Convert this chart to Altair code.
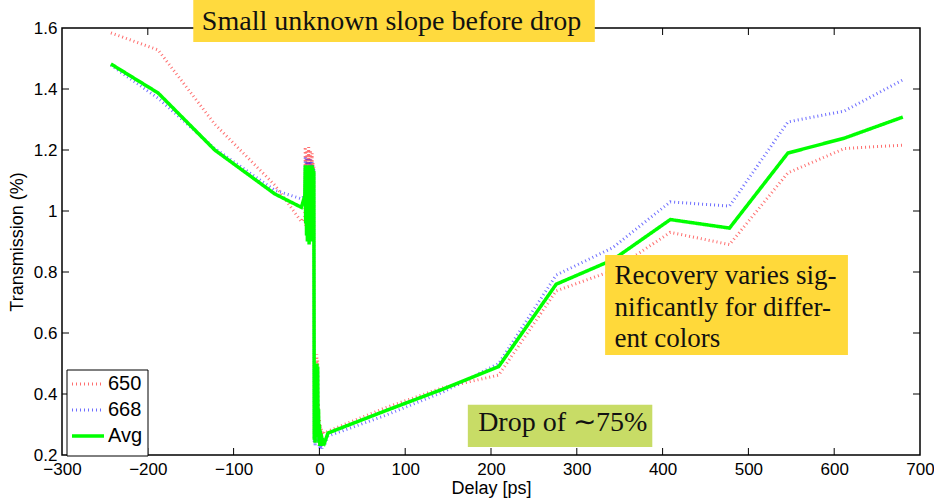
import altair as alt
import pandas as pd

# Pump-probe transmission traces for two probe colours and their average
pre_delay = [-243, -188, -122, -52, -21]
pre_650 = [1.584, 1.528, 1.285, 1.085, 0.965]
pre_668 = [1.478, 1.370, 1.205, 1.068, 1.040]
pre_avg = [1.482, 1.387, 1.200, 1.056, 1.012]

# finely sampled region around time zero
spike_delay = [-17, -16.5, -16, -15.5, -15, -14.5, -14, -13.5, -13, -12.5, -12, -11.5,
               -11, -10.5, -10, -9.5, -9, -8.5, -8, -7.5, -7, -6.5, -6, -5.5, -5,
               -4.5, -4, -3.5, -3, -2.5, -2, -1.5, -1, -0.5, 0, 0.5, 1, 1.5, 2, 3, 4, 6]
spike_650 = [0.98, 1.21, 0.95, 1.18, 0.93, 1.20, 0.96, 1.17, 0.94, 1.21, 0.92, 1.18,
             0.95, 1.20, 0.93, 1.17, 0.96, 1.19, 0.94, 1.16, 0.92, 1.15, 0.27, 0.36, 0.26,
             0.42, 0.28, 0.33, 0.53, 0.29, 0.51, 0.28, 0.37, 0.26, 0.32, 0.25, 0.30, 0.25,
             0.29, 0.26, 0.28, 0.27]
spike_668 = [1.05, 1.18, 0.97, 1.16, 0.93, 1.17, 0.92, 1.15, 0.96, 1.17, 0.91, 1.16,
             0.94, 1.17, 0.92, 1.15, 0.93, 1.16, 0.96, 1.15, 0.91, 1.14, 0.24, 0.31, 0.23,
             0.36, 0.25, 0.28, 0.48, 0.25, 0.47, 0.24, 0.33, 0.23, 0.28, 0.22, 0.26, 0.22,
             0.25, 0.22, 0.24, 0.23]
spike_avg = [1.05, 1.15, 0.96, 1.14, 0.92, 1.15, 0.90, 1.13, 0.95, 1.15, 0.89, 1.14,
             0.93, 1.15, 0.90, 1.14, 0.92, 1.15, 0.95, 1.14, 0.90, 1.13, 0.25, 0.33, 0.24,
             0.38, 0.26, 0.30, 0.50, 0.27, 0.49, 0.26, 0.35, 0.24, 0.30, 0.23, 0.28, 0.23,
             0.27, 0.23, 0.25, 0.24]

post_delay = [10, 77, 143, 209, 276, 342, 409, 478, 546, 612, 680]
post_650 = [0.278, 0.355, 0.420, 0.462, 0.738, 0.805, 0.930, 0.890, 1.125, 1.205, 1.216]
post_668 = [0.262, 0.330, 0.405, 0.500, 0.790, 0.880, 1.030, 1.016, 1.292, 1.328, 1.430]
post_avg = [0.272, 0.345, 0.415, 0.490, 0.760, 0.840, 0.972, 0.944, 1.190, 1.239, 1.308]

series_names = ["650", "668", "Avg"]
series_colors = ["#ff2020", "#2020ff", "#00ff00"]
series_dash = [[1, 3], [1, 3], [1, 0]]
series_width = [3, 3, 3.5]
series_opacity = [0.65, 0.65, 1.0]

x_ticks = [-300, -200, -100, 0, 100, 200, 300, 400, 500, 600, 700]
y_ticks = [0.2, 0.4, 0.6, 0.8, 1.0, 1.2, 1.4, 1.6]

delay = pre_delay + spike_delay + post_delay
values = {
    "650": pre_650 + spike_650 + post_650,
    "668": pre_668 + spike_668 + post_668,
    "Avg": pre_avg + spike_avg + post_avg,
}

W, H = 858, 427
FONT = "Liberation Sans"
SERIF = "Liberation Serif"

x_scale = alt.Scale(domain=[-300, 700], nice=False, zero=False)
y_scale = alt.Scale(domain=[0.2, 1.6], nice=False, zero=False)

x_axis = alt.Axis(values=x_ticks, title="Delay [ps]", tickSize=0, domain=False,
                  grid=False, labelPadding=6, labelOverlap=False, labelFlush=False,
                  labelFont=FONT, labelFontSize=17, titleFont=FONT,
                  titleFontSize=18, titleFontWeight="normal", titlePadding=2,
                  labelColor="black", titleColor="black")
y_axis = alt.Axis(values=y_ticks, title="Transmission (%)", tickSize=0, domain=False,
                  grid=False, labelPadding=5, labelOverlap=False, labelFlush=False,
                  labelFont=FONT, labelFontSize=17, titleFont=FONT,
                  titleFontSize=18, titleFontWeight="normal", titlePadding=7,
                  labelColor="black", titleColor="black", format="~g")


def X(field):
    return alt.X(field, type="quantitative", scale=x_scale, axis=x_axis)


def Y(field):
    return alt.Y(field, type="quantitative", scale=y_scale, axis=y_axis)


# one layer per series so the average is drawn on top
lines = []
for name, color, dash, width, op in zip(series_names, series_colors, series_dash,
                                         series_width, series_opacity):
    d = pd.DataFrame({"delay": delay, "trans": values[name]})
    lines.append(alt.Chart(d).mark_line(
        color=color, strokeDash=dash, strokeWidth=width, opacity=op
    ).encode(x=X("delay"), y=Y("trans")))

# inward tick marks on all four sides
xt = pd.DataFrame({"v": x_ticks[1:-1]})
yt = pd.DataFrame({"v": y_ticks[1:-1]})
tick_len = 7
ticks = [
    alt.Chart(xt).mark_rule(color="black", strokeWidth=1).encode(
        x=X("v"), y=alt.value(H), y2=alt.value(H - tick_len)),
    alt.Chart(xt).mark_rule(color="black", strokeWidth=1).encode(
        x=X("v"), y=alt.value(0), y2=alt.value(tick_len)),
    alt.Chart(yt).mark_rule(color="black", strokeWidth=1).encode(
        y=Y("v"), x=alt.value(0), x2=alt.value(tick_len)),
    alt.Chart(yt).mark_rule(color="black", strokeWidth=1).encode(
        y=Y("v"), x=alt.value(W), x2=alt.value(W - tick_len)),
]

# annotation boxes (data coordinates)
box_x0 = [-147, 333, 173]
box_x1 = [321, 616, 388]
box_y0 = [1.554, 0.528, 0.226]
box_y1 = [1.692, 0.856, 0.365]
box_fill = ["#ffda3e", "#ffd93a", "#c8dc66"]
boxes = pd.DataFrame({"x0": box_x0, "x1": box_x1, "y0": box_y0, "y1": box_y1,
                      "fill": box_fill})
box_layer = alt.Chart(boxes).mark_rect().encode(
    x=X("x0"), x2="x1:Q", y=Y("y0"), y2="y1:Q",
    fill=alt.Fill("fill:N", scale=None))

note_text = ["Small unknown slope before drop", "Recovery varies sig-",
             "nificantly for differ-", "ent colors", "Drop of \u223c75%"]
note_x = [-137, 344, 344, 344, 185]
note_y = [1.620, 0.787, 0.682, 0.580, 0.305]
note_size = [28, 27, 27, 27, 28]
notes = pd.DataFrame({"t": note_text, "x": note_x, "y": note_y, "s": note_size})
note_layer = alt.Chart(notes).mark_text(
    align="left", baseline="middle", font=SERIF, color="#111111").encode(
    x=X("x"), y=Y("y"), text="t:N", size=alt.Size("s:Q", scale=None, legend=None))

# legend box in the lower-left corner of the plot
leg = pd.DataFrame({"name": series_names, "row": [0, 1, 2]})
leg["py"] = 356 + 26 * leg["row"]
leg_box = alt.Chart(leg).transform_filter(alt.datum.row == 0).mark_rect(
    fill="white", stroke="black", strokeWidth=1).encode(
    x=alt.value(5), x2=alt.value(86), y=alt.value(342), y2=alt.value(H + 1))
leg_lines = []
for i, (color, dash, width, op) in enumerate(zip(series_colors, series_dash,
                                                 series_width, series_opacity)):
    leg_lines.append(
        alt.Chart(leg).transform_filter(alt.datum.row == i).mark_rule(
            color=color, strokeDash=dash, strokeWidth=width, opacity=op).encode(
            x=alt.value(10), x2=alt.value(42),
            y=alt.Y("py:Q", scale=None, axis=None)))
leg_text = alt.Chart(leg).mark_text(
    align="left", baseline="middle", font=FONT, fontSize=20, color="black").encode(
    x=alt.value(46), y=alt.Y("py:Q", scale=None, axis=None), text="name:N")

chart = alt.layer(
    *lines, *ticks, box_layer, note_layer, leg_box, *leg_lines, leg_text,
).properties(
    width=W, height=H,
    padding={"left": 62, "top": 28, "right": 14, "bottom": 49},
    autosize=alt.AutoSizeParams(type="none"),
    background="white",
).configure_view(stroke="black", strokeWidth=1.5)

chart.save("out.html", embed_options={"renderer": "svg", "actions": False})
